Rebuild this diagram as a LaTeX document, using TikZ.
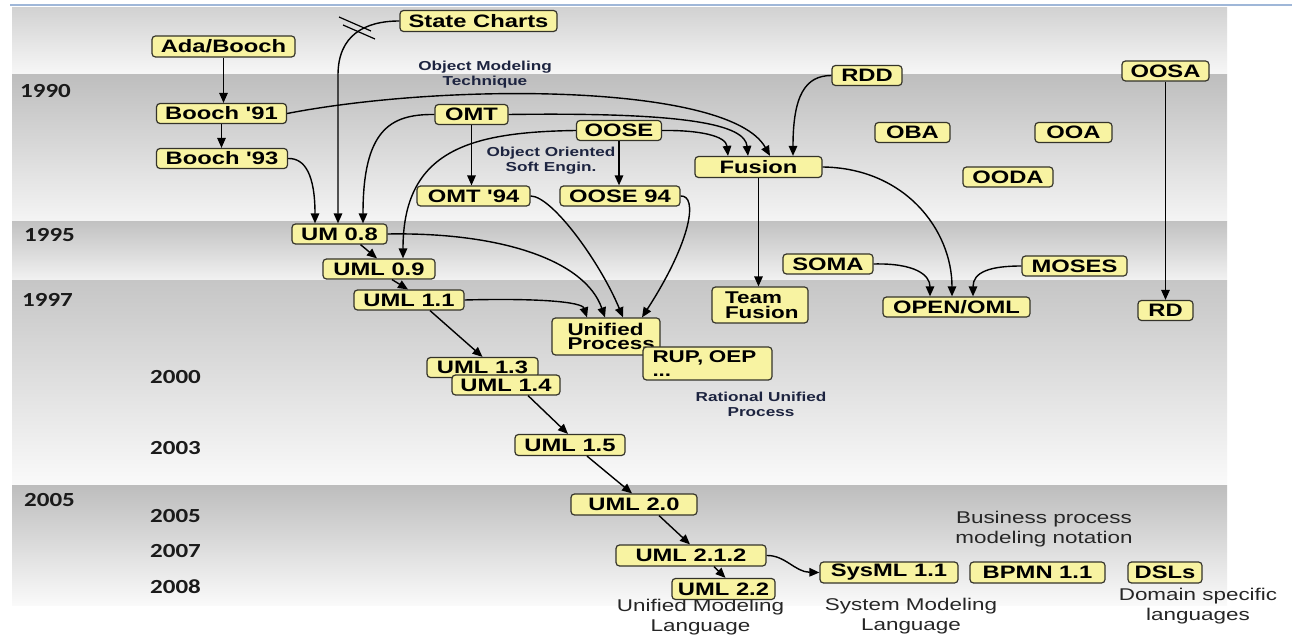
\documentclass[tikz,border=0pt]{standalone}
\usepackage{fontspec}
\setmainfont{Liberation Sans}
\newfontfamily\wideface{Liberation Sans}[FakeStretch=1.32]
\newfontfamily\yearface{Carlito}[FakeStretch=1.25]
\usetikzlibrary{arrows.meta}

\definecolor{boxfill}{HTML}{F8F3A2}
\definecolor{boxline}{HTML}{34332A}
\definecolor{yearink}{HTML}{1A1A1A}
\definecolor{noteink}{HTML}{1D2440}
\definecolor{capink}{HTML}{262626}
\definecolor{toprule}{HTML}{9FB7D8}
\definecolor{bandA}{HTML}{D2D2D2}
\definecolor{bandB}{HTML}{BEBEBE}
\definecolor{bandC}{HTML}{C2C2C2}
\definecolor{bandD}{HTML}{C6C6C6}
\definecolor{bandE}{HTML}{BDBDBD}

\begin{document}
\begin{tikzpicture}[x=1pt,y=-1pt,
  box/.style={draw=boxline, line width=1.2pt, rounded corners=3.5pt, fill=boxfill,
    inner sep=0pt, minimum height=20pt, font=\wideface\bfseries\fontsize{18}{15}\selectfont},
  tallbox/.style={box, align=left, font=\wideface\bfseries\fontsize{17}{14.5}\selectfont},
  flow/.style={line width=1.4pt, -{Triangle[length=10pt,width=8.5pt]}},
  year/.style={anchor=west, inner sep=0pt, text=yearink, font=\yearface\bfseries\fontsize{20}{20}\selectfont},
  note/.style={align=center, inner sep=0pt, text=noteink, font=\wideface\bfseries\fontsize{13}{15}\selectfont},
  caption/.style={align=center, inner sep=0pt, text=capink, font=\wideface\fontsize{17}{20}\selectfont},
]
\useasboundingbox (0,0) rectangle (1294,636);
\fill[white] (0,0) rectangle (1294,636);

% time bands
\shade[top color=bandA, bottom color=white!97!black] (12,8) rectangle (1227,75);
\shade[top color=bandB, bottom color=white!96!black] (12,75) rectangle (1227,222);
\shade[top color=bandC, bottom color=white!95!black] (12,222) rectangle (1227,281);
\shade[top color=bandD, bottom color=white!98!black] (12,281) rectangle (1227,485);
\shade[top color=bandE, bottom color=white!98!black] (12,485) rectangle (1227,605);
\draw[toprule, line width=2.2pt] (10,5) -- (1292,5);

% years
\node[year] (y1990) at (20,91) {1990};
\node[year] (y1995) at (24,235) {1995};
\node[year] (y1997) at (22,300) {1997};
\node[year] (y2000) at (150,377) {2000};
\node[year] (y2003) at (150,448) {2003};
\node[year] (y2005a) at (24,500) {2005};
\node[year] (y2005b) at (150,516.5) {2005};
\node[year] (y2007) at (150,551.5) {2007};
\node[year] (y2008) at (150,586.5) {2008};

% notes
\node[note] (omtnote) at (485,75) {Object Modeling\\Technique};
\node[note] (oosenote) at (551,160.5) {Object Oriented\\Soft Engin.};
\node[note] (rupnote) at (761,404) {Rational Unified\\Process};
\node[caption] (bpmnnote) at (1044,529) {Business process\\modeling notation};
\node[caption] (umlnote) at (700.5,617) {Unified Modeling\\Language};
\node[caption] (sysmlnote) at (911,616) {System Modeling\\Language};
\node[caption] (dslnote) at (1198,606.5) {Domain specific\\languages};

% methods
\node[box, minimum width=143pt, minimum height=21pt] (ada) at (223.5,46.5) {Ada/Booch};
\node[box, minimum width=157pt, minimum height=21pt] (sc) at (478.5,21) {State Charts};
\node[box, minimum width=130pt] (b91) at (221.5,113.5) {Booch '91};
\node[box, minimum width=131pt] (b93) at (222,158.5) {Booch '93};
\node[box, minimum width=73pt] (omt) at (471.5,114.5) {OMT};
\node[box, minimum width=85pt] (oose) at (619,130.5) {OOSE};
\node[box, minimum width=127pt, minimum height=21pt] (fusion) at (758.5,167) {Fusion};
\node[box, minimum width=113pt] (omt94) at (473.5,196) {OMT '94};
\node[box, minimum width=120pt] (oose94) at (620,196) {OOSE 94};
\node[box, minimum width=70pt] (rdd) at (867,75.5) {RDD};
\node[box, minimum width=75pt] (oba) at (912.5,132.5) {OBA};
\node[box, minimum width=77pt] (ooa) at (1073.5,132.5) {OOA};
\node[box, minimum width=90pt] (ooda) at (1008,177) {OODA};
\node[box, minimum width=87pt] (oosa) at (1165.5,71) {OOSA};
\node[box, minimum width=95pt] (um08) at (339.5,234) {UM 0.8};
\node[box, minimum width=112pt] (uml09) at (379,269) {UML 0.9};
\node[box, minimum width=110pt] (uml11) at (409,300) {UML 1.1};
\node[tallbox, minimum width=108pt, minimum height=37pt, text width=77pt] (up) at (606,336.5) {Unified\\Process};
\node[tallbox, minimum width=129pt, minimum height=33pt, text width=110pt] (rup) at (707.5,363.5) {RUP, OEP\\...};
\node[tallbox, minimum width=96pt, minimum height=36pt, text width=70pt] (team) at (760,305) {Team\\Fusion};
\node[box, minimum width=90pt] (soma) at (828,264) {SOMA};
\node[box, minimum width=105pt] (moses) at (1074.5,266) {MOSES};
\node[box, minimum width=147pt] (open) at (956.5,307) {OPEN/OML};
\node[box, minimum width=55pt] (rd) at (1165.5,310.5) {RD};
\node[box, minimum width=111pt] (uml13) at (482.5,367.5) {UML 1.3};
\node[box, minimum width=108pt] (uml14) at (506,385) {UML 1.4};
\node[box, minimum width=110pt, minimum height=21pt] (uml15) at (570,445) {UML 1.5};
\node[box, minimum width=126pt, minimum height=21pt] (uml20) at (634,504.5) {UML 2.0};
\node[box, minimum width=150pt, minimum height=21pt] (uml212) at (691,555.5) {UML 2.1.2};
\node[box, minimum width=103pt, minimum height=21pt] (uml22) at (723.5,589) {UML 2.2};
\node[box, minimum width=138pt, minimum height=21pt] (sysml) at (889,572.5) {SysML 1.1};
\node[box, minimum width=135pt, minimum height=21pt] (bpmn) at (1037.5,572.5) {BPMN 1.1};
\node[box, minimum width=74pt, minimum height=21pt] (dsls) at (1165,572.5) {DSLs};

% lineage
\coordinate (scbend) at (338,75);
\draw[flow] (ada.south) -- (ada.south |- b91.north);
\draw[flow] (b91.south) -- (b91.south |- b93.north);
\draw[flow] (b93.east) .. controls (305,158) and (315,175) .. ([xshift=-24.5pt]um08.north);
\draw[flow] (sc.west) .. controls (365,21) and (338,35) .. (scbend) -- (scbend |- um08.north);
\draw[line width=1.2pt] (339,17) -- (371,31);
\draw[line width=1.2pt] (343,25) -- (375,39);
\draw[flow] (omt.west) .. controls (390,114) and (363,130) .. ([xshift=23.5pt]um08.north);
\draw[flow] (b91.east) .. controls (450,82) and (730,84) .. ([xshift=11.5pt]fusion.north);
\draw[flow] (omt.east) .. controls (690,112) and (745,125) .. ([xshift=-10.5pt]fusion.north);
\draw[flow] (oose.east) .. controls (700,130) and (726,136) .. ([xshift=-30.5pt]fusion.north);
\draw[flow] (rdd.west) .. controls (805,75.5) and (793,96) .. ([xshift=34.5pt]fusion.north);
\draw[flow] (omt.south) -- (omt.south |- omt94.north);
\draw[flow] (oose.south) -- (oose.south |- oose94.north);
\draw[flow] (oose.west) .. controls (470,132) and (403,150) .. ([xshift=24pt]uml09.north);
\draw[flow] ([xshift=21pt]um08.south) -- ([xshift=-2pt]uml09.north);
\draw[flow] ([xshift=13pt]uml09.south) -- ([xshift=-1pt]uml11.north);
\draw[flow] (um08.east) .. controls (500,232) and (585,260) .. ([xshift=-1pt]up.north);
\draw[flow] (uml11.east) .. controls (540,298) and (582,302) .. ([xshift=-19pt]up.north);
\draw[flow] (omt94.east) .. controls (552,196) and (600,262) .. ([xshift=17pt]up.north);
\draw[flow] (oose94.east) .. controls (698,195) and (692,240) .. ([xshift=36pt]up.north);
\draw[flow] ([xshift=21pt]uml11.south) -- (uml13.north);
\draw[flow] ([xshift=22pt]uml14.south) -- ([xshift=-2pt]uml15.north);
\draw[flow] ([xshift=17pt]uml15.south) -- ([xshift=-2pt]uml20.north);
\draw[flow] ([xshift=25pt]uml20.south) -- ([xshift=-1pt]uml212.north);
\draw[flow] ([xshift=23pt]uml212.south) -- ([xshift=2pt]uml22.north);
\draw[flow] (uml212.east) .. controls (785,555) and (795,572) .. (sysml.west);
\draw[flow] (fusion.south) -- (fusion.south |- team.north);
\draw[flow] (fusion.east) .. controls (905,168) and (952,230) .. ([xshift=-4.5pt]open.north);
\draw[flow] (soma.east) .. controls (915,263) and (930,275) .. ([xshift=-26.5pt]open.north);
\draw[flow] (moses.west) .. controls (990,266) and (973,272) .. ([xshift=16.5pt]open.north);
\draw[flow] (oosa.south) -- (oosa.south |- rd.north);
\end{tikzpicture}
\end{document}
